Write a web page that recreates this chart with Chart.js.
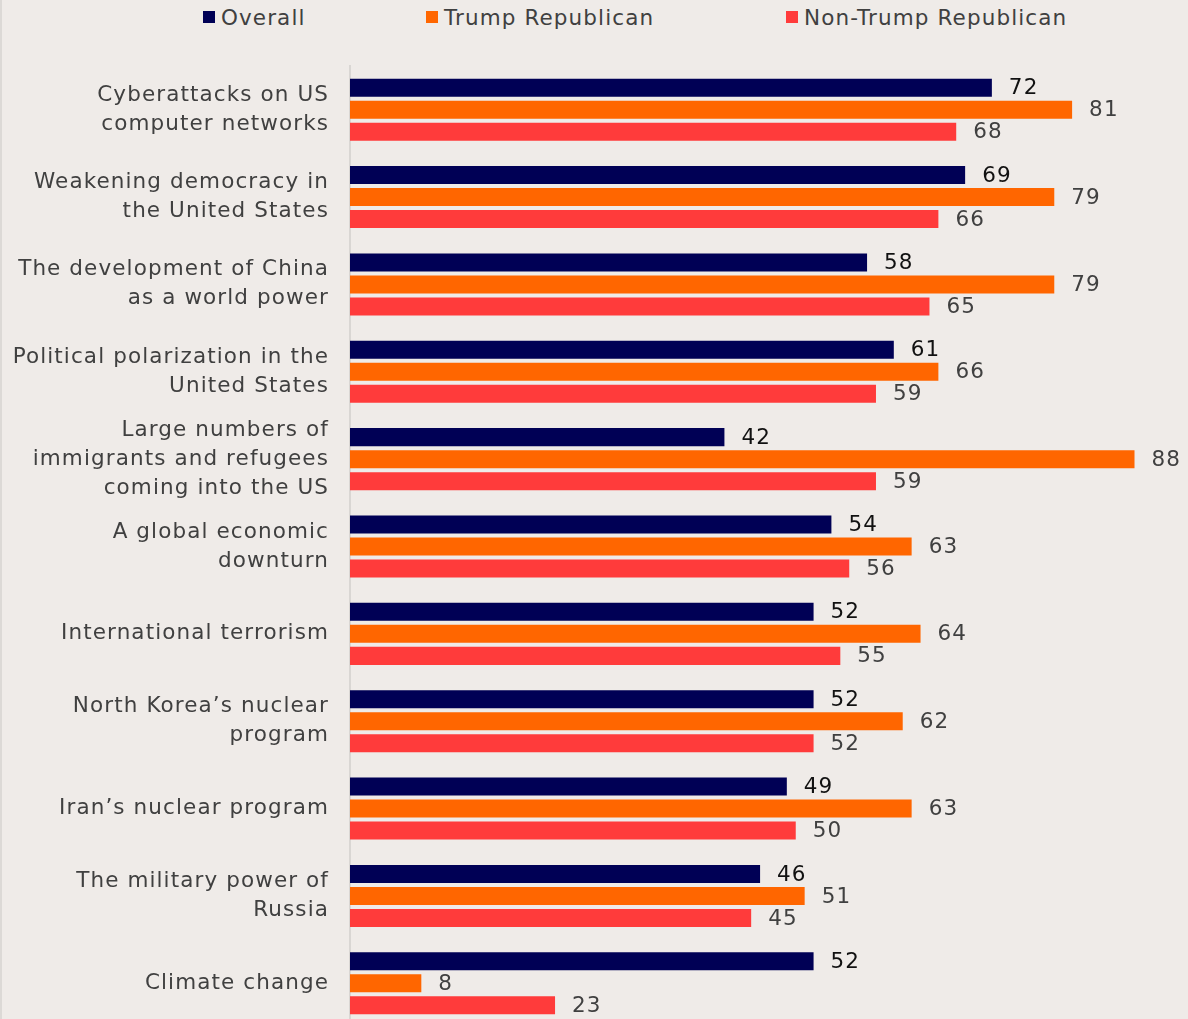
<!DOCTYPE html>
<html>
<head>
<meta charset="utf-8">
<script src="https://cdn.jsdelivr.net/npm/chart.js@4/dist/chart.umd.min.js"></script>
<style>
  html, body { margin: 0; padding: 0; background: #efebe8; overflow: hidden; }
  #wrap { position: relative; width: 1188px; height: 1019px; overflow: hidden; }
  #wrap::before { content: ""; position: absolute; left: 0; top: 0; width: 2px; height: 100%; background: #dcd9d6; z-index: 2; }
  #legend { position: absolute; top: 2px; left: 0; width: 1188px; height: 30px; font-family: "DejaVu Sans", sans-serif; font-size: 21.5px; letter-spacing: 1.1px; color: #404040; }
  .item { position: absolute; top: 0; display: flex; align-items: center; height: 30px; white-space: nowrap; }
  .sw { width: 12px; height: 12px; margin-right: 6px; }
  canvas { position: absolute; top: 0; left: 0; }
</style>
</head>
<body>
<div id="wrap">
  <div id="legend"></div>
  <canvas id="c" width="1188" height="1027" style="width:1188px;height:1027px"></canvas>
</div>
<script>
const categories = [
  ["Cyberattacks on US", "computer networks"],
  ["Weakening democracy in", "the United States"],
  ["The development of China", "as a world power"],
  ["Political polarization in the", "United States"],
  ["Large numbers of", "immigrants and refugees", "coming into the US"],
  ["A global economic", "downturn"],
  "International terrorism",
  ["North Korea\u2019s nuclear", "program"],
  "Iran\u2019s nuclear program",
  ["The military power of", "Russia"],
  "Climate change"
];
const seriesNames = ["Overall", "Trump Republican", "Non-Trump Republican"];
const overall = [72, 69, 58, 61, 42, 54, 52, 52, 49, 46, 52];
const trumpRep = [81, 79, 79, 66, 88, 63, 64, 62, 63, 51, 8];
const nonTrumpRep = [68, 66, 65, 59, 59, 56, 55, 52, 50, 45, 23];
const colors = ["#000055", "#ff6600", "#ff3b3b"];
const labelColors = ["#111111", "#404040", "#404040"];

const FONT = '"DejaVu Sans", sans-serif';
const FONT_SIZE = 21.5;
const LETTER_SPACING = '1.1px';

// HTML legend
const legendPositions = [203, 426, 786];
const legendEl = document.getElementById('legend');
seriesNames.forEach((n, i) => {
  const d = document.createElement('div');
  d.className = 'item';
  d.style.left = legendPositions[i] + 'px';
  d.innerHTML = '<span class="sw" style="background:' + colors[i] + '"></span><span>' + n + '</span>';
  legendEl.appendChild(d);
});

const spacing = {
  id: 'spacing',
  beforeDraw(chart) { chart.ctx.letterSpacing = LETTER_SPACING; }
};

const valueLabels = {
  id: 'valueLabels',
  afterDatasetsDraw(chart) {
    const ctx = chart.ctx;
    ctx.save();
    ctx.letterSpacing = LETTER_SPACING;
    ctx.font = FONT_SIZE + 'px ' + FONT;
    ctx.textBaseline = 'middle';
    ctx.textAlign = 'left';
    chart.data.datasets.forEach((ds, di) => {
      const meta = chart.getDatasetMeta(di);
      ctx.fillStyle = labelColors[di];
      meta.data.forEach((bar, i) => {
        ctx.fillText(String(ds.data[i]), bar.x + 17, bar.y + 1);
      });
    });
    ctx.restore();
  }
};

new Chart(document.getElementById('c'), {
  type: 'bar',
  data: {
    labels: categories,
    datasets: [
      { label: seriesNames[0], data: overall, backgroundColor: colors[0] },
      { label: seriesNames[1], data: trumpRep, backgroundColor: colors[1] },
      { label: seriesNames[2], data: nonTrumpRep, backgroundColor: colors[2] }
    ]
  },
  options: {
    indexAxis: 'y',
    responsive: false,
    animation: false,
    devicePixelRatio: 1,
    categoryPercentage: 0.756,
    barPercentage: 0.818,
    layout: { padding: { top: 66, right: 0, bottom: 0, left: 0 } },
    plugins: { legend: { display: false }, tooltip: { enabled: false } },
    scales: {
      x: { display: false, min: 0, max: 94 },
      y: {
        afterFit(scale) {
          scale.width = 350;
          scale.paddingTop = 0;
          scale.paddingBottom = 0;
        },
        grid: { display: false, drawTicks: false },
        border: { display: true, color: '#d9d6d3', width: 2 },
        ticks: {
          autoSkip: false,
          padding: 21,
          color: '#404040',
          font: { family: FONT, size: FONT_SIZE, lineHeight: 1.35 },
          crossAlign: 'near'
        }
      }
    }
  },
  plugins: [spacing, valueLabels]
});
</script>
</body>
</html>
